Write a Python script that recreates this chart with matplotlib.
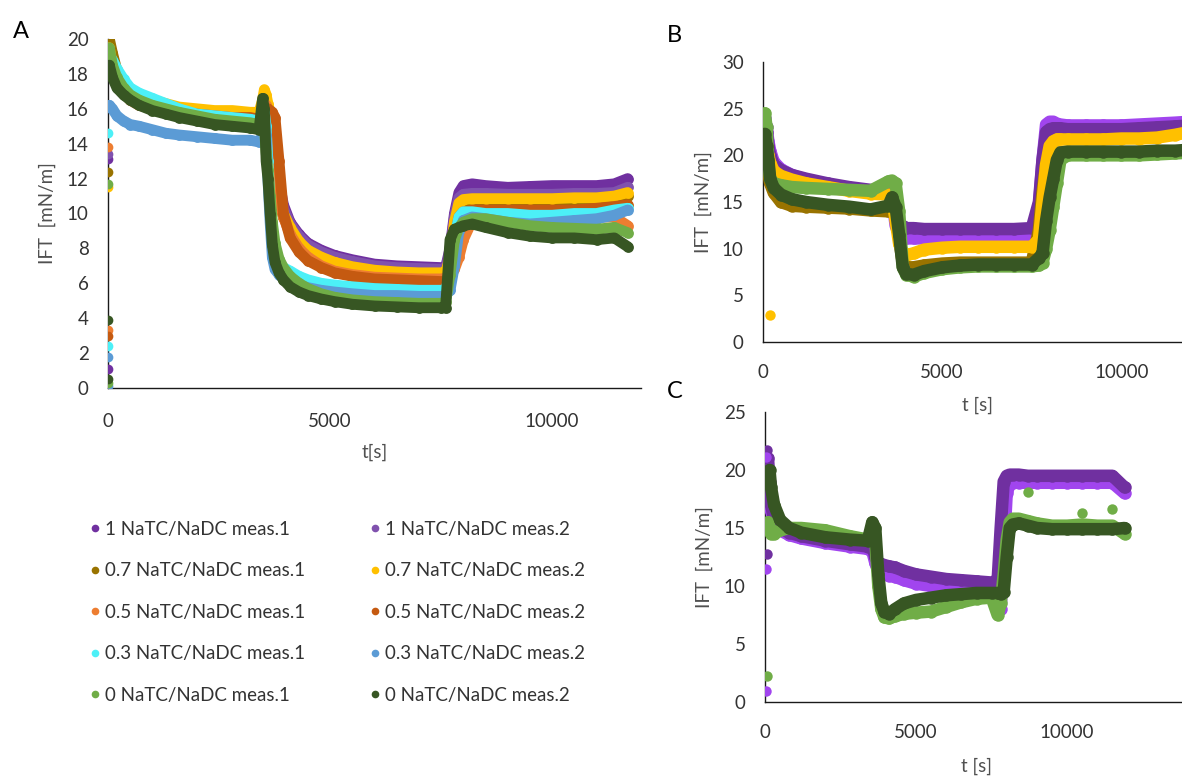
import matplotlib
matplotlib.use('Agg')
import matplotlib.pyplot as plt
from matplotlib.lines import Line2D

# ---------------- data: panel A ----------------
t_A = [30, 100, 200, 350, 500, 700, 1000, 1300, 1600, 2000,
       2400, 2800, 3200, 3400, 3480, 3520, 3560, 3600, 3650, 3700,
       3760, 3850, 3950, 4100, 4300, 4500, 4800, 5100, 5500, 6000,
       6500, 7000, 7500, 7600, 7700, 7800, 7900, 8000, 8200, 8500,
       9000, 9500, 10000, 10500, 11000, 11400, 11700]

a_1_m1 = [19.8, 18.8, 18.0, 17.4, 17.0, 16.7, 16.4, 16.2, 16.0, 15.9,
          15.8, 15.7, 15.6, 15.5, 16.0, 16.5, 16.3, 16.0, 15.8, 15.0,
          13.5, 11.8, 10.5, 9.5, 8.8, 8.3, 7.9, 7.6, 7.35, 7.1,
          7.0, 6.95, 6.9, 6.9, 8.0, 10.0, 11.2, 11.6, 11.7, 11.6,
          11.5, 11.55, 11.6, 11.6, 11.6, 11.7, 12.0]
a_1_m2 = [19.6, 18.6, 17.9, 17.3, 16.9, 16.6, 16.3, 16.1, 15.9, 15.8,
          15.7, 15.6, 15.5, 15.4, 15.9, 16.4, 16.2, 15.9, 15.6, 14.8,
          13.3, 11.6, 10.3, 9.4, 8.7, 8.2, 7.8, 7.5, 7.25, 7.0,
          6.9, 6.85, 6.8, 6.8, 7.8, 9.8, 10.9, 11.1, 11.15, 11.15,
          11.1, 11.1, 11.1, 11.15, 11.15, 11.2, 11.5]
a_07_m1 = [20.0, 19.2, 18.2, 17.4, 16.9, 16.6, 16.3, 16.1, 15.9, 15.8,
           15.7, 15.6, 15.5, 15.5, 16.0, 16.5, 16.3, 16.0, 15.5, 14.5,
           12.8, 10.8, 9.8, 9.0, 8.3, 7.8, 7.4, 7.1, 6.85, 6.65,
           6.55, 6.5, 6.5, 6.5, 7.3, 9.3, 10.5, 10.7, 10.75, 10.75,
           10.75, 10.75, 10.75, 10.8, 10.8, 10.9, 11.0]
a_07_m2 = [19.5, 18.5, 17.8, 17.2, 16.9, 16.7, 16.5, 16.3, 16.1, 16.0,
           15.9, 15.9, 15.8, 15.8, 16.5, 17.1, 16.8, 16.3, 15.8, 15.0,
           13.0, 11.0, 10.0, 9.2, 8.4, 7.9, 7.5, 7.2, 6.95, 6.75,
           6.65, 6.6, 6.6, 6.6, 7.5, 9.5, 10.6, 10.8, 10.85, 10.85,
           10.85, 10.85, 10.85, 10.9, 10.9, 11.0, 11.2]
a_05_m1 = [18.5, 18.0, 17.5, 16.9, 16.5, 16.2, 16.0, 15.8, 15.7, 15.6,
           15.5, 15.4, 15.4, 15.3, 15.8, 16.3, 16.2, 15.8, 15.0, 14.0,
           12.5, 11.0, 9.8, 8.8, 8.0, 7.5, 7.0, 6.7, 6.5, 6.35,
           6.3, 6.25, 6.25, 6.3, 6.5, 6.8, 7.5, 8.5, 9.6, 9.9,
           10.0, 10.0, 9.9, 9.9, 9.8, 9.8, 9.3]
a_05_m2 = [19.0, 18.3, 17.6, 17.0, 16.6, 16.3, 16.1, 15.9, 15.8, 15.7,
           15.6, 15.5, 15.5, 15.4, 15.6, 16.0, 16.0, 16.0, 15.9, 15.8,
           15.5, 13.0, 10.0, 8.6, 7.8, 7.3, 6.9, 6.6, 6.4, 6.25,
           6.2, 6.15, 6.1, 6.1, 6.6, 8.5, 9.8, 10.1, 10.2, 10.2,
           10.2, 10.2, 10.2, 10.2, 10.3, 10.4, 10.5]
a_03_m1 = [19.0, 18.8, 18.3, 17.7, 17.2, 16.9, 16.6, 16.3, 16.0, 15.7,
           15.6, 15.5, 15.4, 15.3, 15.5, 15.8, 15.0, 13.0, 10.5, 8.5,
           7.3, 7.0, 6.9, 6.7, 6.4, 6.2, 6.0, 5.9, 5.8, 5.7,
           5.65, 5.6, 5.6, 5.6, 6.5, 8.5, 9.8, 10.1, 10.1, 10.0,
           10.0, 9.9, 9.9, 10.0, 10.0, 10.2, 10.3]
a_03_m2 = [16.2, 16.0, 15.6, 15.3, 15.1, 15.0, 14.8, 14.6, 14.5, 14.4,
           14.3, 14.2, 14.2, 14.1, 14.5, 15.5, 14.5, 12.0, 9.5, 7.5,
           6.8, 6.5, 6.3, 6.1, 5.9, 5.75, 5.6, 5.5, 5.4, 5.3,
           5.3, 5.25, 5.25, 5.3, 5.6, 7.0, 9.0, 9.6, 9.8, 9.7,
           9.5, 9.4, 9.5, 9.6, 9.7, 9.9, 10.2]
a_0_m1 = [19.5, 18.5, 17.8, 17.2, 16.8, 16.5, 16.2, 16.0, 15.8, 15.6,
          15.4, 15.3, 15.2, 15.1, 16.0, 15.0, 13.5, 12.5, 11.0, 9.5,
          8.3, 7.4, 6.9, 6.4, 6.0, 5.7, 5.4, 5.2, 5.05, 4.95,
          4.9, 4.85, 4.85, 4.9, 6.5, 8.5, 9.2, 9.5, 9.7, 9.7,
          9.5, 9.3, 9.2, 9.15, 9.1, 9.2, 8.9]
a_0_m2 = [18.5, 17.8, 17.2, 16.8, 16.5, 16.2, 15.9, 15.7, 15.5, 15.3,
          15.1, 15.0, 14.9, 14.8, 16.6, 16.0, 13.0, 12.0, 10.0, 8.2,
          7.2, 6.6, 6.2, 5.8, 5.5, 5.3, 5.1, 4.95, 4.8, 4.7,
          4.65, 4.6, 4.6, 4.6, 8.5, 9.1, 9.2, 9.3, 9.4, 9.2,
          8.9, 8.7, 8.6, 8.6, 8.5, 8.6, 8.1]

# first readings at t = 0 (panel A)
a_init = {
    '1_m1': [13.1, 1.1], '1_m2': [13.4], '07_m1': [12.4], '07_m2': [11.5],
    '05_m1': [13.8, 3.3], '05_m2': [3.0], '03_m1': [14.6, 2.4],
    '03_m2': [1.8, 0.1], '0_m1': [11.7, 0.3], '0_m2': [3.9, 0.5],
}

labels_A = ['1 NaTC/NaDC meas.1', '1 NaTC/NaDC meas.2',
            '0.7 NaTC/NaDC meas.1', '0.7 NaTC/NaDC meas.2',
            '0.5 NaTC/NaDC meas.1', '0.5 NaTC/NaDC meas.2',
            '0.3 NaTC/NaDC meas.1', '0.3 NaTC/NaDC meas.2',
            '0 NaTC/NaDC meas.1', '0 NaTC/NaDC meas.2']
keys_A = ['1_m1', '1_m2', '07_m1', '07_m2', '05_m1', '05_m2',
          '03_m1', '03_m2', '0_m1', '0_m2']
series_A = [a_1_m1, a_1_m2, a_07_m1, a_07_m2, a_05_m1, a_05_m2,
            a_03_m1, a_03_m2, a_0_m1, a_0_m2]
colors_A = ['#7030A0', '#8052AE', '#997300', '#FFC000', '#ED7D31',
            '#C55A11', '#4CF0F7', '#5B9BD5', '#70AD47', '#375623']

# ---------------- data: panel B ----------------
t_B = [50, 100, 150, 200, 300, 500, 800, 1200, 1800, 2400,
       3000, 3500, 3600, 3700, 3800, 3900, 4000, 4200, 4500, 5000,
       5500, 6000, 6500, 7000, 7500, 7700, 7800, 7900, 8000, 8100,
       8200, 8300, 8500, 9000, 9500, 10000, 10500, 11000, 11500, 11900]

b_1_m2 = [24.0, 23.0, 21.5, 20.5, 19.3, 18.5, 17.9, 17.4, 16.9, 16.5,
          16.2, 16.0, 15.8, 12.5, 11.5, 11.2, 11.1, 11.1, 11.1, 11.0,
          11.0, 11.0, 11.0, 11.0, 11.1, 14.5, 19.5, 23.3, 23.6, 23.6,
          23.4, 23.3, 23.2, 23.2, 23.2, 23.2, 23.3, 23.4, 23.5, 23.6]
b_1_m1 = [23.5, 22.5, 21.0, 20.0, 19.0, 18.4, 17.9, 17.5, 17.0, 16.6,
          16.3, 16.2, 16.0, 13.2, 12.8, 12.4, 12.2, 12.2, 12.1, 12.1,
          12.1, 12.1, 12.1, 12.1, 12.2, 15.0, 19.5, 22.5, 22.8, 22.9,
          22.9, 22.9, 22.8, 22.8, 22.8, 22.8, 22.9, 23.0, 23.1, 23.2]
b_07_m1 = [21.0, 19.5, 18.0, 17.0, 16.0, 15.0, 14.6, 14.5, 14.4, 14.3,
           14.1, 14.0, 14.5, 14.0, 11.0, 8.5, 8.0, 8.0, 8.2, 8.4,
           8.5, 8.5, 8.5, 8.5, 8.5, 12.0, 16.0, 19.0, 20.0, 20.2,
           20.3, 20.3, 20.3, 20.3, 20.3, 20.3, 20.3, 20.4, 20.4, 20.5]
b_07_m2 = [22.0, 21.0, 20.0, 19.2, 18.3, 17.8, 17.4, 17.0, 16.6, 16.2,
           15.9, 15.8, 15.6, 13.0, 10.5, 9.6, 9.3, 9.5, 9.9, 10.1,
           10.2, 10.2, 10.2, 10.2, 10.2, 11.0, 15.0, 19.0, 21.0, 21.5,
           21.7, 21.7, 21.7, 21.7, 21.7, 21.8, 21.8, 21.9, 22.2, 22.5]
b_0_m1 = [24.5, 23.0, 19.0, 17.5, 17.0, 16.8, 16.6, 16.5, 16.4, 16.3,
          16.2, 17.2, 17.3, 17.0, 14.0, 8.0, 7.2, 7.0, 7.4, 7.8,
          8.0, 8.1, 8.1, 8.1, 8.1, 8.2, 8.5, 10.0, 12.0, 14.5,
          17.0, 19.5, 20.0, 20.0, 20.0, 20.0, 20.0, 20.1, 20.2, 20.3]
b_0_m2 = [22.3, 21.0, 19.5, 17.5, 16.5, 15.8, 15.3, 15.0, 14.7, 14.5,
          14.2, 14.6, 15.5, 14.5, 11.5, 8.0, 7.3, 7.2, 7.6, 8.0,
          8.2, 8.3, 8.3, 8.3, 8.3, 9.0, 9.5, 13.0, 15.5, 17.5,
          19.5, 20.3, 20.4, 20.4, 20.4, 20.4, 20.4, 20.5, 20.5, 20.6]
b_outlier_t = [200]
b_outlier_v = [2.9]

series_B = [b_1_m2, b_1_m1, b_07_m1, b_07_m2, b_0_m1, b_0_m2]
colors_B = ['#A145EE', '#7030A0', '#997300', '#FFC000', '#70AD47', '#375623']

# ---------------- data: panel C ----------------
t_C = [100, 150, 200, 300, 500, 800, 1200, 2000, 2800, 3400,
       3550, 3650, 3750, 3850, 3950, 4100, 4300, 4600, 5000, 5500,
       6000, 6500, 7000, 7500, 7700, 7800, 7900, 8000, 8100, 8200,
       8400, 8700, 9000, 9500, 10000, 10500, 11000, 11500, 11900]

c_1_m2 = [19.5, 18.0, 16.5, 15.5, 14.8, 14.4, 14.1, 13.7, 13.4, 13.2,
          13.0, 12.0, 11.3, 11.2, 11.0, 10.9, 10.8, 10.5, 10.2, 10.0,
          9.9, 9.9, 9.9, 9.9, 9.5, 8.0, 13.0, 18.0, 18.8, 18.9,
          18.9, 18.9, 18.9, 18.9, 18.9, 18.9, 18.9, 18.9, 18.0]
c_1_m1 = [21.0, 19.0, 17.0, 15.8, 15.0, 14.6, 14.3, 13.9, 13.6, 13.4,
          13.5, 12.5, 12.0, 11.9, 11.8, 11.7, 11.6, 11.3, 11.0, 10.8,
          10.6, 10.5, 10.4, 10.3, 10.5, 15.0, 19.0, 19.5, 19.6, 19.6,
          19.6, 19.5, 19.5, 19.5, 19.5, 19.5, 19.5, 19.5, 18.5]
c_0_m1 = [15.5, 15.0, 14.5, 14.5, 14.8, 15.0, 15.0, 14.8, 14.3, 14.0,
          15.0, 14.0, 10.0, 8.0, 7.3, 7.2, 7.4, 7.6, 7.7, 7.8,
          8.2, 8.6, 8.9, 9.0, 7.5, 8.5, 11.0, 14.0, 15.5, 15.8,
          15.8, 15.6, 15.4, 15.2, 15.2, 15.3, 15.2, 15.2, 14.5]
c_0_m2 = [19.5, 20.0, 18.5, 17.0, 15.7, 15.0, 14.6, 14.2, 14.0, 13.9,
          15.5, 15.0, 11.0, 8.5, 7.8, 7.6, 8.0, 8.5, 8.8, 9.0,
          9.2, 9.3, 9.4, 9.4, 9.4, 9.3, 9.5, 12.5, 15.0, 15.3,
          15.4, 15.2, 15.0, 14.9, 14.9, 14.9, 14.9, 14.9, 15.0]

c_init_1_m1_t = [50, 80]
c_init_1_m1_v = [21.7, 12.8]
c_init_1_m2_t = [30, 20, 20]
c_init_1_m2_v = [21.1, 11.5, 0.95]
c_init_0_m1_t = [80, 8700, 10500, 11500]
c_init_0_m1_v = [2.2, 18.1, 16.3, 16.6]

series_C = [c_1_m2, c_1_m1, c_0_m1, c_0_m2]
colors_C = ['#A145EE', '#7030A0', '#70AD47', '#375623']

# ---------------- style ----------------
FONT = ['Lato', 'DejaVu Sans']
plt.rcParams['font.family'] = FONT
TICK_FS = 13.5
TXT = '#333333'
LBL = '#505050'

W, H = 1182, 776
fig = plt.figure(figsize=(W / 100, H / 100), dpi=100)


def axes_px(left, top, right, bottom):
    return fig.add_axes([left / W, 1 - bottom / H, (right - left) / W, (bottom - top) / H])


def style(ax, xmax, ymax, ystep, xlab, xlab_y, ylab_x, xpad):
    ax.set_xlim(0, xmax)
    ax.set_ylim(0, ymax)
    ax.set_xticks([0, 5000, 10000])
    ax.set_yticks(list(range(0, ymax + 1, ystep)))
    for s in ('top', 'right'):
        ax.spines[s].set_visible(False)
    for s in ('left', 'bottom'):
        ax.spines[s].set_color('#1a1a1a')
        ax.spines[s].set_linewidth(1.0)
        ax.spines[s].set_zorder(1)
    ax.tick_params(length=0, labelsize=TICK_FS, labelcolor=TXT)
    ax.tick_params(axis='y', pad=14)
    ax.tick_params(axis='x', pad=xpad)
    ax.set_xlabel(xlab, fontsize=TICK_FS, color=LBL)
    ax.set_ylabel('IFT  [mN/m]', fontsize=TICK_FS, color=LBL)
    ax.xaxis.set_label_coords(0.5, xlab_y)
    ax.xaxis.label.set_va('center')
    ax.yaxis.set_label_coords(ylab_x, 0.5)
    ax.yaxis.label.set_va('center')
    ax.patch.set_alpha(0)


def draw(ax, t, y, color, lw):
    ax.plot(t, y, '-', color=color, lw=lw, solid_capstyle='round',
            solid_joinstyle='round', marker='o', ms=lw, mew=0, zorder=2)


# Panel A
axA = axes_px(108, 39, 641, 388)
for key, ys, c in zip(keys_A, series_A, colors_A):
    draw(axA, t_A, ys, c, 7.8)
for key, c in zip(keys_A, colors_A):
    v = a_init[key]
    axA.plot([0] * len(v), v, 'o', color=c, ms=7, mew=0, zorder=3)
style(axA, 12000, 20, 2, 't[s]', -0.183, -0.1144, 18)

# Panel B
axB = axes_px(763, 62, 1193, 342)
for ys, c in zip(series_B, colors_B):
    draw(axB, t_B, ys, c, 9)
axB.plot(b_outlier_t, b_outlier_v, 'o', color='#FFC000', ms=7.5, mew=0, zorder=3)
style(axB, 12000, 30, 5, 't [s]', -0.225, -0.1395, 16)

# Panel C
axC = axes_px(765, 412, 1188, 702)
for ys, c in zip(series_C, colors_C):
    draw(axC, t_C, ys, c, 9)
axC.plot(c_init_1_m1_t, c_init_1_m1_v, 'o', color='#7030A0', ms=7.5, mew=0, zorder=3)
axC.plot(c_init_1_m2_t, c_init_1_m2_v, 'o', color='#A145EE', ms=7.5, mew=0, zorder=3)
axC.plot(c_init_0_m1_t, c_init_0_m1_v, 'o', color='#70AD47', ms=7.5, mew=0, zorder=3)
style(axC, 14000, 25, 5, 't [s]', -0.2207, -0.144, 16)

# Panel letters
fig.text(21 / W, 1 - 32 / H, 'A', fontsize=17, ha='center', va='center', color='black')
fig.text(674 / W, 1 - 35 / H, 'B', fontsize=17, ha='center', va='center', color='black')
fig.text(675 / W, 1 - 391 / H, 'C', fontsize=17, ha='center', va='center', color='black')

# Legend (meas.1 in first column, meas.2 in second)
order = [0, 2, 4, 6, 8, 1, 3, 5, 7, 9]
handles = [Line2D([], [], ls='', marker='o', ms=5.5, mew=0, color=colors_A[i]) for i in order]
labs = [labels_A[i] for i in order]
fig.legend(handles, labs, loc='upper left', bbox_to_anchor=(90 / W, 1 - 521 / H),
           ncol=2, frameon=False, fontsize=TICK_FS, labelcolor=TXT,
           handlelength=0.5, handletextpad=0.3, columnspacing=3.45,
           labelspacing=1.3, borderpad=0, borderaxespad=0)

fig.savefig('out.png', dpi=100)
